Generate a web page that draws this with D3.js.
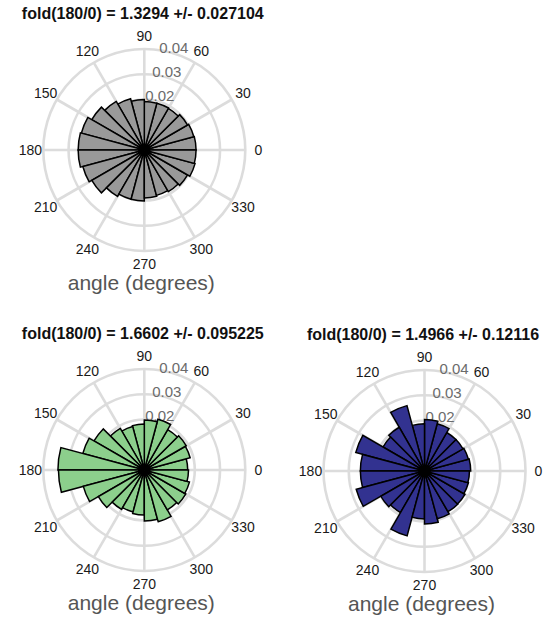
<!DOCTYPE html>
<html>
<head>
<meta charset="utf-8">
<script src="https://cdn.jsdelivr.net/npm/d3@7"></script>
<style>
  html, body { margin: 0; padding: 0; background: #fff; }
  svg { display: block; }
  text { font-family: "Liberation Sans", Arial, Helvetica, sans-serif; }
</style>
</head>
<body>
<svg id="chart" width="555" height="617"></svg>
<script>
// ---- data ----
const binStarts = [0, 15, 30, 45, 60, 75, 90, 105, 120, 135, 150, 165,
                   180, 195, 210, 225, 240, 255, 270, 285, 300, 315, 330, 345];
const binWidth = 15;
const angleTicks = [0, 30, 60, 90, 120, 150, 180, 210, 240, 270, 300, 330];
const ringTicks = [0.01, 0.02, 0.03, 0.04];
const ringLabels = ["0.02", "0.03", "0.04"];
const ringLabelValues = [0.02, 0.03, 0.04];

const titles = [
  "fold(180/0) = 1.3294 +/- 0.027104",
  "fold(180/0) = 1.6602 +/- 0.095225",
  "fold(180/0) = 1.4966 +/- 0.12116"
];
const xLabel = "angle (degrees)";

const seriesGray = [0.0205, 0.0203, 0.0198, 0.0190, 0.0192, 0.0192, 0.0200, 0.0210,
                    0.0222, 0.0240, 0.0258, 0.0262, 0.0262, 0.0252, 0.0240, 0.0212,
                    0.0202, 0.0202, 0.0190, 0.0186, 0.0190, 0.0198, 0.0208, 0.0205];
const seriesGreen = [0.0172, 0.0188, 0.0192, 0.0185, 0.0208, 0.0198, 0.0182, 0.0178,
                     0.0190, 0.0230, 0.0252, 0.0342, 0.0340, 0.0250, 0.0210, 0.0180,
                     0.0172, 0.0178, 0.0202, 0.0212, 0.0182, 0.0190, 0.0185, 0.0175];
const seriesNavy = [0.0183, 0.0180, 0.0176, 0.0176, 0.0194, 0.0204, 0.0187, 0.0268,
                    0.0200, 0.0190, 0.0282, 0.0254, 0.0254, 0.0280, 0.0200, 0.0190,
                    0.0266, 0.0190, 0.0210, 0.0196, 0.0186, 0.0185, 0.0180, 0.0178];

const panels = [
  { title: titles[0], values: seriesGray,  fill: "#999999", cx: 144.3, cy: 150 },
  { title: titles[1], values: seriesGreen, fill: "#8ccf8c", cx: 144.3, cy: 470 },
  { title: titles[2], values: seriesNavy,  fill: "#323290", cx: 424.5, cy: 471 }
];

// ---- drawing ----
const svg = d3.select("#chart");
const r = d3.scaleLinear().domain([0, 0.04]).range([0, 101]);
// math angle (deg, ccw from east) -> d3 arc angle (rad, cw from north)
const a = d3.scaleLinear().domain([0, 360]).range([Math.PI / 2, Math.PI / 2 - 2 * Math.PI]);
const gridColor = "#dcdcdc";
const labelR = 114;

function pt(deg, rad) {
  const t = deg * Math.PI / 180;
  return [rad * Math.cos(t), -rad * Math.sin(t)];
}

panels.forEach(p => {
  const g = svg.append("g").attr("transform", `translate(${p.cx},${p.cy})`);

  // rings
  g.selectAll("circle.ring").data(ringTicks).join("circle")
    .attr("class", "ring")
    .attr("r", d => r(d))
    .attr("fill", "none")
    .attr("stroke", gridColor)
    .attr("stroke-width", 2.6);

  // spokes
  g.selectAll("line.spoke").data(angleTicks).join("line")
    .attr("class", "spoke")
    .attr("x1", 0).attr("y1", 0)
    .attr("x2", d => pt(d, r(0.04))[0])
    .attr("y2", d => pt(d, r(0.04))[1])
    .attr("stroke", gridColor)
    .attr("stroke-width", 2.6);

  // radial tick labels
  g.selectAll("text.rlab").data(ringLabelValues).join("text")
    .attr("class", "rlab")
    .attr("x", d => pt(74, r(d) + 6)[0])
    .attr("y", d => pt(74, r(d) + 6)[1])
    .attr("text-anchor", "middle")
    .attr("dominant-baseline", "central")
    .attr("font-size", 15)
    .attr("fill", "#6b6b6b")
    .text((d, i) => ringLabels[i]);

  // bars
  const arc = d3.arc()
    .innerRadius(0)
    .outerRadius(d => r(d.v))
    .startAngle(d => a(d.b))
    .endAngle(d => a(d.b + binWidth));
  const bins = binStarts.map((b, i) => ({ b, v: p.values[i] }));
  g.selectAll("path.bar").data(bins).join("path")
    .attr("class", "bar")
    .attr("d", arc)
    .attr("fill", p.fill)
    .attr("stroke", "#000")
    .attr("stroke-width", 1.5)
    .attr("stroke-linejoin", "miter");

  // angle labels
  g.selectAll("text.alab").data(angleTicks).join("text")
    .attr("class", "alab")
    .attr("x", d => pt(d, labelR)[0])
    .attr("y", d => pt(d, labelR)[1])
    .attr("text-anchor", "middle")
    .attr("dominant-baseline", "central")
    .attr("font-size", 14)
    .attr("fill", "#1a1a1a")
    .text(d => d);

  // title
  g.append("text")
    .attr("x", -1.5).attr("y", -131)
    .attr("text-anchor", "middle")
    .attr("font-size", 16)
    .attr("font-weight", "bold")
    .attr("fill", "#111")
    .text(p.title);

  // axis label
  g.append("text")
    .attr("x", -3).attr("y", 140)
    .attr("text-anchor", "middle")
    .attr("font-size", 21)
    .attr("fill", "#555")
    .text(xLabel);
});
</script>
</body>
</html>
